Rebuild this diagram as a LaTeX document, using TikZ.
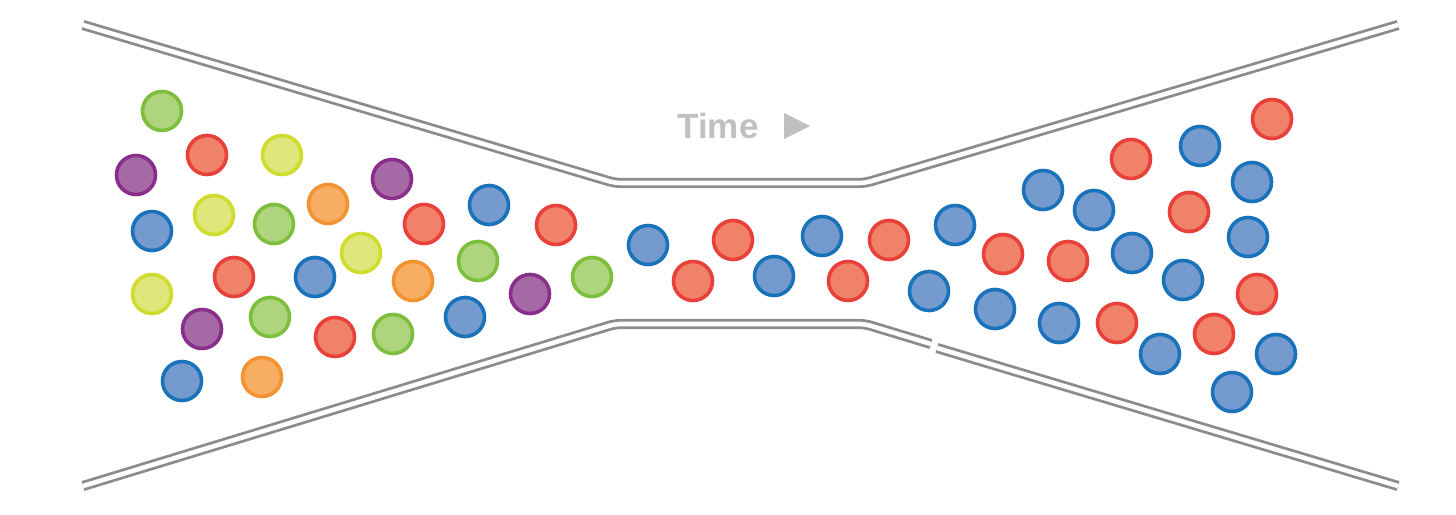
\documentclass[tikz,border=0pt]{standalone}
\usepackage{fontspec}
\setmainfont{Liberation Sans}
\usetikzlibrary{calc}

\definecolor{pipegray}{RGB}{140,140,140}
\definecolor{timegray}{RGB}{192,192,192}
\definecolor{bfill}{RGB}{116,154,206}
\definecolor{bline}{RGB}{26,114,187}
\definecolor{rfill}{RGB}{240,130,106}
\definecolor{rline}{RGB}{232,64,58}
\definecolor{gfill}{RGB}{174,212,126}
\definecolor{gline}{RGB}{125,190,60}
\definecolor{yfill}{RGB}{223,230,122}
\definecolor{yline}{RGB}{207,220,46}
\definecolor{pfill}{RGB}{165,106,166}
\definecolor{pline}{RGB}{138,46,140}
\definecolor{ofill}{RGB}{248,174,98}
\definecolor{oline}{RGB}{243,146,50}

\tikzset{
  ball/.style={circle, line width=3.6pt, minimum size=39pt, inner sep=0pt},
  bball/.style={ball, fill=bfill, draw=bline},
  rball/.style={ball, fill=rfill, draw=rline},
  gball/.style={ball, fill=gfill, draw=gline},
  yball/.style={ball, fill=yfill, draw=yline},
  pball/.style={ball, fill=pfill, draw=pline},
  oball/.style={ball, fill=ofill, draw=oline},
  pipe/.style={draw=pipegray, line width=2.8pt, double=white, double distance=4.6pt, rounded corners=6pt}
}

\begin{document}
\begin{tikzpicture}[x=1pt, y=-1pt]
  \useasboundingbox (0,0) rectangle (1456,514);
  % walls of the funnel
  \coordinate (TL) at (83,25);
  \coordinate (TNL) at (615,183);
  \coordinate (TNR) at (865,183);
  \coordinate (TR) at (1398,25);
  \coordinate (BL) at (83,486);
  \coordinate (BNL) at (615,324);
  \coordinate (BNR) at (865,324);
  \coordinate (BK1) at (931,344);
  \coordinate (BK2) at (937,348);
  \coordinate (BR) at (1398,486);
  \draw[pipe] (TL) -- (TNL) -- (TNR) -- (TR);
  \draw[pipe] (BL) -- (BNL) -- (BNR) -- (BK1);
  \draw[pipe] (BK2) -- (BR);
  % label
  \node[font=\bfseries\fontsize{35}{40}\selectfont, text=timegray, inner sep=0pt] (time) at (718,126) {Time};
  \fill[timegray] (784,113) -- (810,126) -- (784,139) -- cycle;
  % blue
  \foreach \x/\y [count=\i] in {152/231, 315/277, 489/205, 465/317, 182/381,
      648/245, 774/276, 822/236, 955/225, 929/291, 995/309,
      1043/190, 1094/210, 1200/146, 1252/182, 1248/237, 1132/253, 1183/280,
      1059/323, 1160/354, 1276/354, 1232/392}
    \node[bball] (b\i) at (\x,\y) {};
  % red
  \foreach \x/\y [count=\i] in {207/155, 424/224, 556/225, 234/277, 335/337,
      693/281, 733/240, 848/281, 889/240, 1003/254,
      1131/159, 1272/119, 1189/212, 1068/261, 1257/294, 1117/323, 1214/334}
    \node[rball] (r\i) at (\x,\y) {};
  % green
  \foreach \x/\y [count=\i] in {162/111, 274/224, 478/261, 592/277, 270/317, 393/334}
    \node[gball] (g\i) at (\x,\y) {};
  % yellow
  \foreach \x/\y [count=\i] in {282/155, 214/215, 361/253, 152/294}
    \node[yball] (y\i) at (\x,\y) {};
  % purple
  \foreach \x/\y [count=\i] in {136/175, 392/179, 530/294, 202/329}
    \node[pball] (p\i) at (\x,\y) {};
  % orange
  \foreach \x/\y [count=\i] in {328/204, 413/281, 262/377}
    \node[oball] (o\i) at (\x,\y) {};
\end{tikzpicture}
\end{document}
